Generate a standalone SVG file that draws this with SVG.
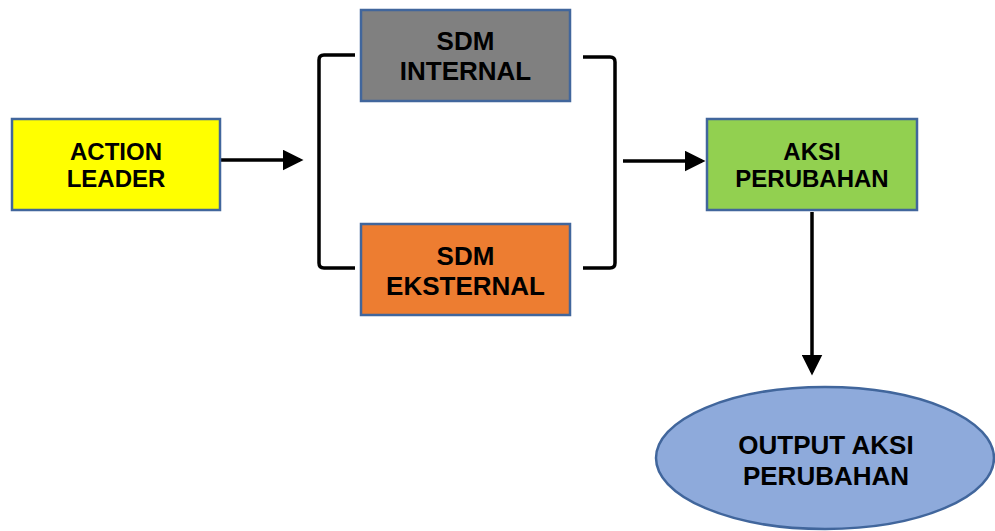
<svg xmlns="http://www.w3.org/2000/svg" width="995" height="531" viewBox="0 0 995 531">
<defs>
<style>
.box{stroke:#41669c;stroke-width:2.5}
.t{font-family:"Liberation Sans",Arial,sans-serif;font-weight:bold;fill:#000;text-anchor:middle}
.s24{font-size:24px}
.s26{font-size:26px}
.ln{stroke:#000;stroke-width:3.5;fill:none}
.br{stroke:#000;stroke-width:3.5;fill:none;stroke-linejoin:round}
</style>
<marker id="ah" markerWidth="6" markerHeight="6" refX="5" refY="3" orient="auto" markerUnits="strokeWidth">
<path d="M0,0 L6,3 L0,6 z" fill="#000"/>
</marker>
</defs>
<rect width="995" height="531" fill="#fff"/>
<g id="connectors">
<line class="ln" x1="220" y1="160" x2="300" y2="160" marker-end="url(#ah)"/>
<line class="ln" x1="623" y1="161" x2="702" y2="161" marker-end="url(#ah)"/>
<line class="ln" x1="812" y1="212" x2="812" y2="372" marker-end="url(#ah)"/>
<path class="br" d="M355,55 L324,55 Q319,55 319,60 L319,263 Q319,268 324,268 L355,268"/>
<path class="br" d="M583,57 L610,57 Q615,57 615,62 L615,263 Q615,268 610,268 L583,268"/>
</g>
<g id="action-leader">
<rect class="box" x="12" y="119" width="208" height="91" fill="#ffff00"/>
<text class="t s24" x="116" y="160">ACTION</text>
<text class="t s24" x="116" y="187">LEADER</text>
</g>
<g id="sdm-internal">
<rect class="box" x="361" y="10" width="209" height="91" fill="#808080"/>
<text class="t s26" x="465.5" y="50">SDM</text>
<text class="t s26" x="465.5" y="80">INTERNAL</text>
</g>
<g id="sdm-eksternal">
<rect class="box" x="361" y="224" width="209" height="91" fill="#ed7d31"/>
<text class="t s26" x="465.5" y="265">SDM</text>
<text class="t s26" x="465.5" y="295">EKSTERNAL</text>
</g>
<g id="aksi-perubahan">
<rect class="box" x="707" y="119" width="210" height="91" fill="#92d050"/>
<text class="t s24" x="812" y="160">AKSI</text>
<text class="t s24" x="812" y="187">PERUBAHAN</text>
</g>
<g id="output-aksi-perubahan">
<ellipse class="box" cx="825" cy="458" rx="169" ry="71" fill="#8eaadb"/>
<text class="t s26" x="826" y="454">OUTPUT AKSI</text>
<text class="t s26" x="826" y="485">PERUBAHAN</text>
</g>
</svg>
